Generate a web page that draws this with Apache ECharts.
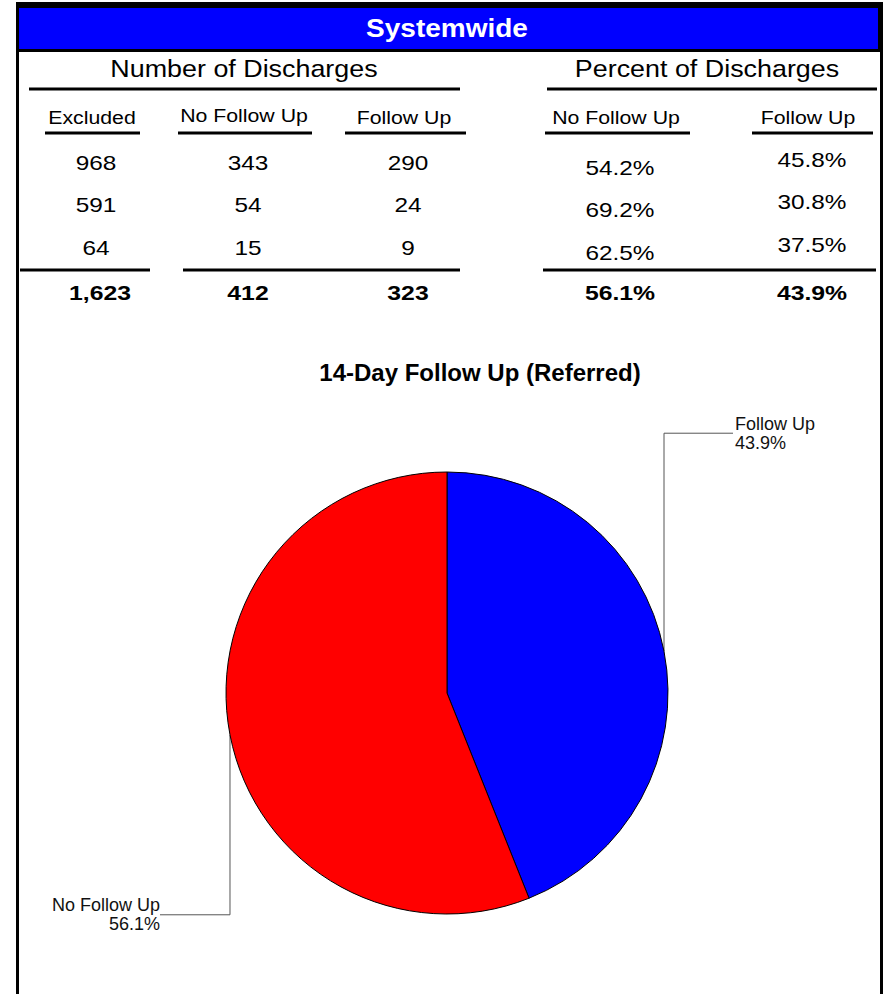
<!DOCTYPE html>
<html>
<head>
<meta charset="utf-8">
<script src="https://cdn.jsdelivr.net/npm/echarts@6/dist/echarts.min.js"></script>
<style>
  html, body { margin: 0; padding: 0; background: #fff; }
  #chart { width: 891px; height: 994px; }
</style>
</head>
<body>
<div id="chart"></div>
<script>
// table data
const columnHeaders = ["Excluded", "No Follow Up", "Follow Up", "No Follow Up", "Follow Up"];
const excluded = ["968", "591", "64"];
const noFollowUp = ["343", "54", "15"];
const followUp = ["290", "24", "9"];
const pctNoFollowUp = ["54.2%", "69.2%", "62.5%"];
const pctFollowUp = ["45.8%", "30.8%", "37.5%"];
const totals = ["1,623", "412", "323", "56.1%", "43.9%"];

// pie data
const pieNames = ["Follow Up", "No Follow Up"];
const pieValues = [323, 412];
const pieColors = ["#0000ff", "#ff0000"];

const FONT = "'Liberation Sans', Arial, sans-serif";

// layout
const colX = [96, 248, 408, 620, 812];
const colDy = [0, 0, 0, 5, -3];
const rowY = [163, 205, 248];
const headerY = [117, 115, 117, 117, 117];
const underlines = [[45, 140], [178, 312], [345, 466], [545, 690], [752, 873]];
const totalLines = [[20, 150], [183, 460], [543, 876]];

function txt(text, x, y, size, weight, color, sx) {
  return {
    type: "text", x: x, y: y, scaleX: sx || 1.12,
    style: {
      text: text, fill: color || "#000",
      font: (weight || "normal") + " " + size + "px " + FONT,
      align: "center", verticalAlign: "middle",
      textAlign: "center", textVerticalAlign: "middle"
    }
  };
}
function hline(x1, x2, y, w) {
  return { type: "line", shape: { x1: x1, y1: y, x2: x2, y2: y }, style: { stroke: "#000", lineWidth: w || 3 } };
}

const graphics = [];
// frame + header bar
graphics.push({ type: "rect", shape: { x: 16, y: 2, width: 867, height: 50 }, style: { fill: "#000" } });
graphics.push({ type: "rect", shape: { x: 19, y: 8, width: 859, height: 41 }, style: { fill: "#0000ff" } });
graphics.push({ type: "rect", shape: { x: 16, y: 2, width: 3, height: 992 }, style: { fill: "#000" } });
graphics.push({ type: "rect", shape: { x: 880, y: 2, width: 3, height: 992 }, style: { fill: "#000" } });
graphics.push(txt("Systemwide", 447, 29, 25, "bold", "#fff"));

graphics.push(txt("Number of Discharges", 244, 69, 24));
graphics.push(txt("Percent of Discharges", 707, 69, 24));
graphics.push(hline(29, 460, 89));
graphics.push(hline(547, 877, 89));

columnHeaders.forEach(function (h, i) {
  graphics.push(txt(h, colX[i] - 4, headerY[i], 19));
  graphics.push(hline(underlines[i][0], underlines[i][1], 133));
});

const cols = [excluded, noFollowUp, followUp, pctNoFollowUp, pctFollowUp];
cols.forEach(function (col, i) {
  col.forEach(function (v, r) {
    graphics.push(txt(v, colX[i], rowY[r] + colDy[i], 21, "normal", "#000", 1.16));
  });
});
totalLines.forEach(function (l) { graphics.push(hline(l[0], l[1], 270)); });
totals.forEach(function (v, i) {
  graphics.push(txt(v, colX[i] + (i === 0 ? 4 : 0), 293, 21, "bold", "#000", 1.18));
});

const chart = echarts.init(document.getElementById("chart"), null, { renderer: "svg" });

const option = {
  animation: false,
  backgroundColor: "#fff",
  title: {
    text: "14-Day Follow Up (Referred)",
    left: 475, top: 355, textAlign: "center",
    textStyle: { fontFamily: FONT, fontWeight: "bold", fontSize: 24, color: "#000" }
  },
  graphic: graphics,
  series: [{
    type: "pie",
    center: [447, 693],
    radius: 221,
    startAngle: 90,
    clockwise: true,
    percentPrecision: 1,
    data: pieNames.map(function (n, i) {
      return { name: n, value: pieValues[i], itemStyle: { color: pieColors[i] } };
    }),
    itemStyle: { borderColor: "#000", borderWidth: 1 },
    emphasis: { disabled: true },
    label: {
      show: true,
      formatter: "{b}\n{d}%",
      fontFamily: FONT, fontSize: 18, lineHeight: 19, color: "#111"
    },
    labelLine: { show: true, lineStyle: { color: "#555", width: 1 } },
    labelLayout: function (params) {
      const p0 = params.labelLinePoints[0];
      if (params.dataIndex === 0) {
        const ly = p0[1] - 218, lx = p0[0] + 69;
        return { x: lx + 2, y: ly, align: "left", verticalAlign: "middle",
          labelLinePoints: [p0, [p0[0], ly], [lx, ly]] };
      }
      const ly = p0[1] + 180, lx = p0[0] - 70;
      return { x: lx, y: ly, align: "right", verticalAlign: "middle",
        labelLinePoints: [p0, [p0[0], ly], [lx, ly]] };
    }
  }]
};
chart.setOption(option);
</script>
</body>
</html>
